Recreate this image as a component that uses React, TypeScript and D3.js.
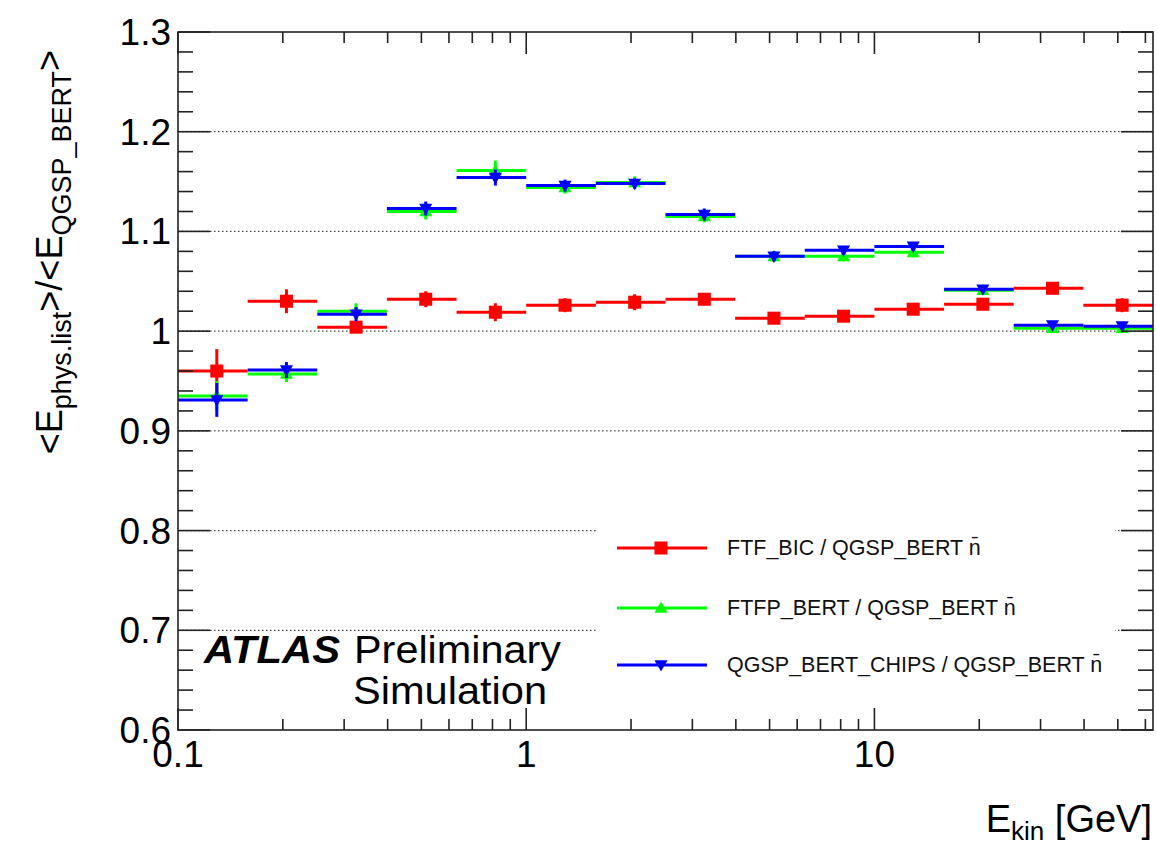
import * as d3 from 'd3'

// bin edges in GeV (log binning, 5 bins per decade)
const BIN_EDGES = [0.1, 0.1585, 0.2512, 0.3981, 0.631, 1, 1.585, 2.512, 3.981, 6.31, 10, 15.85, 25.12, 39.81, 63.1]

// ratio values per bin
const FTF_BIC = [0.960, 1.030, 1.004, 1.032, 1.019, 1.026, 1.029, 1.032, 1.013, 1.015, 1.022, 1.027, 1.043, 1.026]
const FTF_BIC_ERR = [0.022, 0.012, 0.005, 0.008, 0.009, 0.007, 0.008, 0.006, 0.006, 0.005, 0.005, 0.005, 0.005, 0.007]

const FTFP_BERT = [0.935, 0.957, 1.020, 1.120, 1.161, 1.144, 1.149, 1.115, 1.075, 1.075, 1.079, 1.041, 1.003, 1.003]
const FTFP_BERT_ERR = [0.015, 0.008, 0.008, 0.008, 0.010, 0.006, 0.006, 0.006, 0.005, 0.005, 0.005, 0.004, 0.004, 0.004]

const CHIPS = [0.931, 0.961, 1.017, 1.123, 1.154, 1.146, 1.148, 1.117, 1.075, 1.081, 1.085, 1.042, 1.006, 1.005]
const CHIPS_ERR = [0.017, 0.008, 0.007, 0.007, 0.008, 0.006, 0.005, 0.006, 0.005, 0.004, 0.004, 0.004, 0.004, 0.004]

const SERIES = [
  { name: 'FTF_BIC / QGSP_BERT', values: FTF_BIC, errors: FTF_BIC_ERR, color: '#ff0000', marker: 'square' },
  { name: 'FTFP_BERT / QGSP_BERT', values: FTFP_BERT, errors: FTFP_BERT_ERR, color: '#00ff00', marker: 'up' },
  { name: 'QGSP_BERT_CHIPS / QGSP_BERT', values: CHIPS, errors: CHIPS_ERR, color: '#0000ff', marker: 'down' },
]

const Y_MAJOR = [0.6, 0.7, 0.8, 0.9, 1.0, 1.1, 1.2, 1.3]
const Y_LABELS = ['0.6', '0.7', '0.8', '0.9', '1', '1.1', '1.2', '1.3']
const X_LABELS = [
  { v: 0.1, t: '0.1' },
  { v: 1, t: '1' },
  { v: 10, t: '10' },
]

const W = 1157
const H = 849
const FONT = '"Liberation Sans", Arial, Helvetica, sans-serif'

const frame = { left: 178, right: 1153, top: 32, bottom: 730 }

function markerPath(kind: string) {
  if (kind === 'square') return d3.symbol(d3.symbolSquare, 170)()
  return d3.symbol(d3.symbolTriangle, 75)()
}

function Marker({ x, y, kind, color }: { x: number; y: number; kind: string; color: string }) {
  const rot = kind === 'down' ? ' rotate(180)' : ''
  const dy = kind === 'up' ? 1 : kind === 'down' ? -1 : 0
  return <path d={markerPath(kind) || ''} transform={`translate(${x},${y + dy})${rot}`} fill={color} />
}

export default function App() {
  const x = d3.scaleLog().domain([BIN_EDGES[0], BIN_EDGES[BIN_EDGES.length - 1]]).range([frame.left, frame.right])
  const y = d3.scaleLinear().domain([0.6, 1.3]).range([frame.bottom, frame.top])

  const yMinor = y.ticks(35)
  const xTicks = x.ticks()
  const isDecade = (v: number) => Math.abs(Math.log10(v) - Math.round(Math.log10(v))) < 1e-6

  // legend box (white fill, hides the grid behind it)
  const legend = { x0: 598, x1: 1115, y0: 505, y1: 705 }
  const legendRows = [548, 608, 665]

  return (
    <svg
      width={W}
      height={H}
      style={{ position: 'absolute', left: 0, top: 0, background: '#fff' }}
      fontFamily={FONT}
    >
      {/* grid */}
      {Y_MAJOR.slice(1, -1).map(v => (
        <line
          key={'g' + v}
          x1={frame.left}
          x2={frame.right}
          y1={y(v)}
          y2={y(v)}
          stroke="#444"
          strokeWidth={1.2}
          strokeDasharray="1.5,2.5"
        />
      ))}

      <rect x={legend.x0} y={legend.y0} width={legend.x1 - legend.x0} height={legend.y1 - legend.y0} fill="#fff" />

      {/* data */}
      {SERIES.map(s => (
        <g key={s.name}>
          {s.values.map((v, i) => {
            const lo = BIN_EDGES[i]
            const hi = BIN_EDGES[i + 1]
            const cx = x((lo + hi) / 2)
            return (
              <g key={i}>
                <line x1={x(lo)} x2={x(hi)} y1={y(v)} y2={y(v)} stroke={s.color} strokeWidth={3} />
                <line x1={cx} x2={cx} y1={y(v - s.errors[i])} y2={y(v + s.errors[i])} stroke={s.color} strokeWidth={3} />
                <Marker x={cx} y={y(v)} kind={s.marker} color={s.color} />
              </g>
            )
          })}
        </g>
      ))}

      {/* frame */}
      <rect
        x={frame.left}
        y={frame.top}
        width={frame.right - frame.left}
        height={frame.bottom - frame.top}
        fill="none"
        stroke="#222"
        strokeWidth={1.6}
      />

      {/* y ticks, left and right */}
      {yMinor.map(v => {
        const major = Y_MAJOR.some(m => Math.abs(m - v) < 1e-6)
        const len = major ? 32 : 15
        return (
          <g key={'yt' + v} stroke="#222" strokeWidth={1.6}>
            <line x1={frame.left} x2={frame.left + len} y1={y(v)} y2={y(v)} />
            <line x1={frame.right} x2={frame.right - len} y1={y(v)} y2={y(v)} />
          </g>
        )
      })}

      {/* x ticks, bottom and top */}
      {xTicks.map(v => {
        const len = isDecade(v) ? 22 : 11
        return (
          <g key={'xt' + v} stroke="#222" strokeWidth={1.6}>
            <line x1={x(v)} x2={x(v)} y1={frame.bottom} y2={frame.bottom - len} />
            <line x1={x(v)} x2={x(v)} y1={frame.top} y2={frame.top + len} />
          </g>
        )
      })}

      {/* y labels */}
      {Y_MAJOR.map((v, i) => (
        <text key={'yl' + v} x={frame.left - 7} y={y(v) + 13} textAnchor="end" fontSize={37} fill="#000">
          {Y_LABELS[i]}
        </text>
      ))}

      {/* x labels */}
      {X_LABELS.map(d => (
        <text key={'xl' + d.t} x={x(d.v)} y={frame.bottom + 37} textAnchor="middle" fontSize={37} fill="#000">
          {d.t}
        </text>
      ))}

      {/* axis titles */}
      <text x={1152} y={832} textAnchor="end" fontSize={38} fill="#000">
        E<tspan fontSize={26} dy={8}>kin</tspan>
        <tspan dy={-8}> [GeV]</tspan>
      </text>

      <text transform="translate(62,50) rotate(-90)" textAnchor="end" fontSize={36} fill="#000">
        {'<E'}
        <tspan fontSize={27} dy={9}>phys.list</tspan>
        <tspan dy={-9}>{'>/<E'}</tspan>
        <tspan fontSize={27} dy={9}>QGSP_BERT</tspan>
        <tspan dy={-9}>{'>'}</tspan>
      </text>

      {/* ATLAS label */}
      <text x={204} y={663} fontSize={38} fill="#000" fontWeight="bold" fontStyle="italic" textLength={136} lengthAdjust="spacingAndGlyphs">
        ATLAS
      </text>
      <text x={354} y={663} fontSize={38} fill="#000" textLength={207} lengthAdjust="spacingAndGlyphs">
        Preliminary
      </text>
      <text x={353} y={704} fontSize={38} fill="#000" textLength={194} lengthAdjust="spacingAndGlyphs">
        Simulation
      </text>

      {/* legend */}
      {SERIES.map((s, i) => (
        <g key={'lg' + s.name}>
          <line x1={617} x2={707} y1={legendRows[i]} y2={legendRows[i]} stroke={s.color} strokeWidth={3} />
          <Marker x={661} y={legendRows[i]} kind={s.marker} color={s.color} />
          <text x={727} y={legendRows[i] + 7} fontSize={21.5} fill="#111">
            {s.name + ' n\u0304'}
          </text>
        </g>
      ))}
    </svg>
  )
}
